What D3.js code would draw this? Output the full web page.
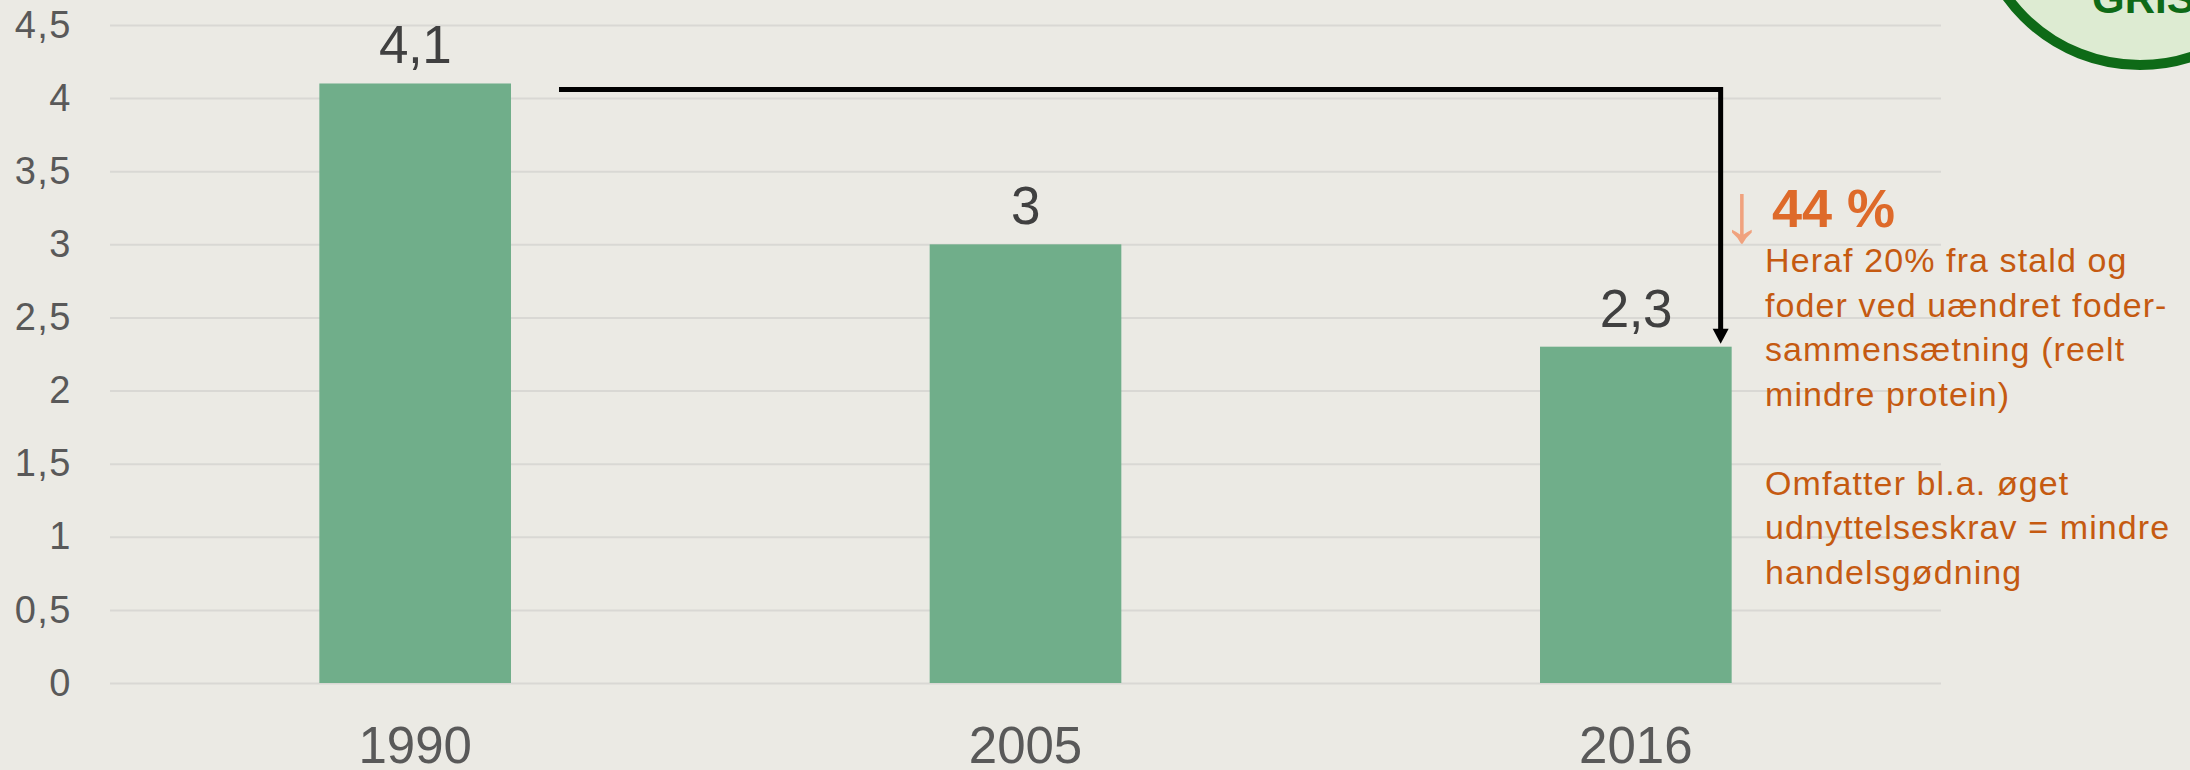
<!DOCTYPE html>
<html>
<head>
<meta charset="utf-8">
<script src="https://cdn.jsdelivr.net/npm/d3@7"></script>
<style>
  html, body { margin: 0; padding: 0; background: #EBEAE4; }
  svg { display: block; font-family: "Liberation Sans", Arial, sans-serif; }
</style>
</head>
<body>
<svg id="chart" width="2190" height="770"></svg>
<script>
var years = ['1990', '2005', '2016'];
var values = [4.1, 3.0, 2.3];
var yTicks = [0, 0.5, 1, 1.5, 2, 2.5, 3, 3.5, 4, 4.5];
var changeLabel = '44 %';
var noteLines = [
  'Heraf 20% fra stald og',
  'foder ved uændret foder-',
  'sammensætning (reelt',
  'mindre protein)',
  '',
  'Omfatter bl.a. øget',
  'udnyttelseskrav = mindre',
  'handelsgødning'
];
var logoText = 'GRIS';

var svg = d3.select('#chart');
// plot area (don't call these top/left, window.top is read-only)
var plotLeft = 110, plotRight = 1941, plotTop = 25, plotBottom = 683;

var locale = d3.formatLocale({decimal: ',', thousands: '.', grouping: [3], currency: ['', '']});
var fmt = locale.format('~g');

var x = d3.scaleBand()
  .domain(years)
  .range([plotLeft, plotRight])
  .paddingInner(0.686)
  .paddingOuter(0.343);

var y = d3.scaleLinear()
  .domain([0, 4.5])
  .range([plotBottom, plotTop]);

function drawGrid() {
  var yAxis = d3.axisLeft(y)
    .tickValues(yTicks)
    .tickSize(-(plotRight - plotLeft))
    .tickPadding(38)
    .tickFormat(fmt);

  var g = svg.append('g')
    .attr('transform', 'translate(' + plotLeft + ',0)')
    .call(yAxis);

  g.select('.domain').remove();
  g.selectAll('.tick line')
    .attr('stroke', '#D9D8D4')
    .attr('stroke-width', 2);
  g.selectAll('.tick text')
    .attr('fill', '#595959')
    .attr('font-size', 38)
    .attr('letter-spacing', 1.5)
    .attr('font-family', '"Liberation Sans", Arial, sans-serif');
}

function drawBars() {
  svg.append('g').selectAll('rect')
    .data(values)
    .join('rect')
    .attr('x', function(d, i) { return x(years[i]); })
    .attr('y', function(d) { return y(d); })
    .attr('width', x.bandwidth())
    .attr('height', function(d) { return y(0) - y(d); })
    .attr('fill', '#70AE8A');

  // value labels
  svg.append('g').selectAll('text')
    .data(values)
    .join('text')
    .attr('x', function(d, i) { return x(years[i]) + x.bandwidth() / 2; })
    .attr('y', function(d) { return y(d) - 20; })
    .attr('text-anchor', 'middle')
    .attr('font-size', 53)
    .attr('letter-spacing', -0.5)
    .attr('fill', '#404040')
    .text(function(d) { return fmt(d); });

  var xAxis = d3.axisBottom(x).tickSize(0);
  var gx = svg.append('g')
    .attr('transform', 'translate(0,' + plotBottom + ')')
    .call(xAxis);
  gx.select('.domain').remove();
  gx.selectAll('.tick text')
    .attr('fill', '#595959')
    .attr('font-size', 51)
    .attr('dy', 0)
    .attr('y', 80)
    .attr('font-family', '"Liberation Sans", Arial, sans-serif');
}

function drawConnector() {
  var x0 = x(years[0]) + x.bandwidth() + 48;
  var x1 = x(years[2]) + x.bandwidth() - 11;
  var y0 = y(values[0]) + 6;
  var y1 = y(values[2]) - 3;

  svg.append('path')
    .attr('d', 'M' + x0 + ',' + y0 + 'H' + x1 + 'V' + (y1 - 12))
    .attr('fill', 'none')
    .attr('stroke', '#000')
    .attr('stroke-width', 5);

  svg.append('path')
    .attr('d', 'M' + (x1 - 8) + ',' + (y1 - 15) + 'L' + (x1 + 8) + ',' + (y1 - 15) + 'L' + x1 + ',' + y1 + 'Z')
    .attr('fill', '#000');
}

function drawNote() {
  // thin down arrow in front of the percentage
  svg.append('text')
    .attr('x', 1721)
    .attr('y', 241)
    .attr('font-size', 84)
    .attr('fill', '#F0A27E')
    .text('↓');

  svg.append('text')
    .attr('x', 1772)
    .attr('y', 227)
    .attr('font-size', 54)
    .attr('font-weight', 'bold')
    .attr('fill', '#DE6A2A')
    .text(changeLabel);

  svg.append('g').selectAll('text')
    .data(noteLines)
    .join('text')
    .attr('x', 1765)
    .attr('y', function(d, i) { return 272 + i * 44.5; })
    .attr('font-size', 34)
    .attr('letter-spacing', 1.1)
    .attr('fill', '#C55A11')
    .text(function(d) { return d; });
}

function drawLogo() {
  svg.append('circle')
    .attr('cx', 2140)
    .attr('cy', -99)
    .attr('r', 164)
    .attr('fill', '#DDEBD2')
    .attr('stroke', '#0E6A17')
    .attr('stroke-width', 10);

  svg.append('text')
    .attr('x', 2092)
    .attr('y', 13)
    .attr('font-size', 42)
    .attr('font-weight', 'bold')
    .attr('fill', '#0E6A17')
    .text(logoText);
}

function main() {
  drawGrid();
  drawBars();
  drawConnector();
  drawNote();
  drawLogo();
}

main();
</script>
</body>
</html>
